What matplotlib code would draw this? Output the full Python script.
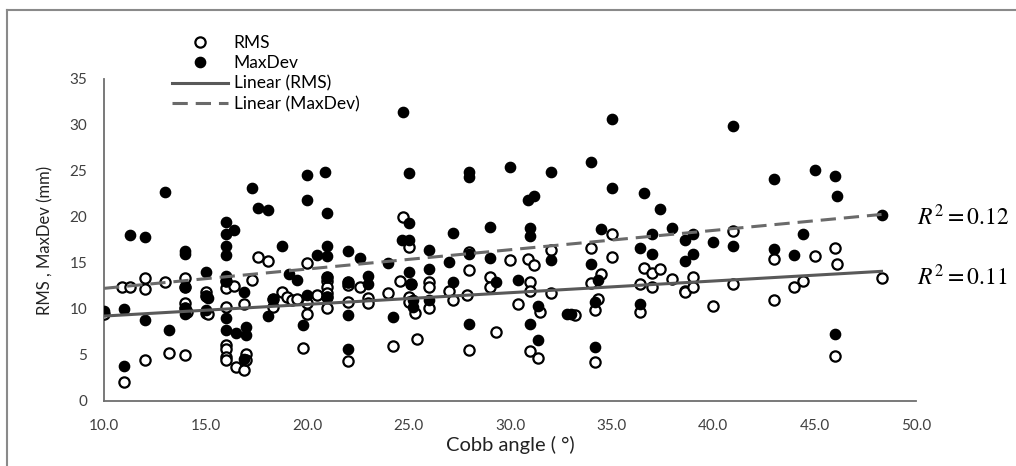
import numpy as np
import matplotlib
matplotlib.use("Agg")
import matplotlib.pyplot as plt
from matplotlib.lines import Line2D

# Cobb angle vs RMS / MaxDev
# quelques points RMS sont cachés sous les points MaxDev
rms_x = [10, 10.9, 11.3, 11, 12, 12, 12, 13, 13.2,
         14, 14, 14.1, 14, 14, 14, 15, 15, 15.1, 15,
         16, 16.4, 16, 16, 16, 16, 16, 16.5, 16,
         16.9, 16.9, 17, 17, 17.3, 17.6, 18.1, 18.3, 18.3,
         18.75, 19, 19.25, 19.5, 19.8, 20, 20, 20, 20.5,
         21, 21, 21, 21, 21, 21, 22, 22, 22, 22, 22.6, 23, 23,
         24, 24.25, 24.75, 25, 24.6, 25, 25, 25.3, 25.4, 25.1,
         26, 26, 26, 27, 27.2, 28, 28, 27.9, 28,
         29, 29, 29.3, 30, 30.9, 31.2, 31, 31, 30.4, 32, 32, 31.5, 31, 31.4,
         33.2, 34, 34, 34.5, 34.35, 34.2, 34.2, 35, 35,
         36.4, 36.4, 36.6, 37, 37, 37.4, 38, 38.6, 38.6, 39, 39, 40,
         41, 41, 43, 43, 44, 44.45, 45, 46, 46.1, 46, 48.3]
rms_y = [9.5, 12.35, 12.4, 2.1, 13.4, 12.2, 4.5, 12.9, 5.2,
         13.4, 10.7, 9.7, 5.0, 12.35, 10.1, 11.8, 9.6, 9.5, 11.4,
         12.25, 12.5, 10.2, 6.1, 5.7, 4.8, 4.5, 3.7, 13.0,
         3.4, 10.5, 5.1, 4.5, 13.2, 15.6, 15.2, 10.25, 11.1,
         11.8, 11.3, 11.0, 11.05, 5.8, 15.0, 10.6, 9.5, 11.5,
         13.0, 12.4, 11.7, 10.1, 13.5, 11.3, 12.6, 10.8, 4.35, 12.9, 12.4, 11.2, 10.7,
         11.7, 6.0, 20.0, 16.7, 13.0, 11.3, 10.8, 9.6, 6.7, 12.7,
         12.9, 12.35, 10.1, 12.0, 11.0, 16.2, 14.2, 11.5, 5.5,
         13.5, 12.35, 7.5, 15.3, 15.4, 14.8, 12.9, 12.0, 10.5, 16.4, 11.7, 9.7, 5.4, 4.7,
         9.4, 16.6, 12.8, 13.8, 11.05, 9.9, 4.2, 18.1, 15.6,
         12.7, 9.7, 14.5, 13.9, 12.35, 14.3, 13.3, 12.0, 11.9, 13.5, 12.35, 10.3,
         18.5, 12.7, 15.4, 11.0, 12.4, 13.0, 15.8, 16.6, 14.9, 4.9, 13.4]

maxdev_x = [10, 11, 11, 11.3, 12, 12, 13, 13.2,
            14, 14, 14, 14, 14, 15, 15, 15.1, 15,
            16, 16, 16.4, 16, 16, 16, 16, 16, 16, 16.5,
            16.9, 17, 17, 16.9, 17.3, 17.6, 18.1, 18.3, 18.1,
            18.75, 19.1, 19.5, 19.8, 20, 20, 20, 20.5,
            20.9, 21, 21, 21, 21, 21, 22, 22, 22, 22, 22.6, 23, 23,
            24, 24.25, 24.75, 25, 25, 24.7, 25, 25, 25.1, 25.2, 25.2,
            26, 26, 26, 27, 27.2, 27.2, 28, 28, 28, 28,
            29, 29, 29.3, 30, 30.4, 31, 31, 30.9, 31.2, 31, 31.4, 31.4,
            32, 32, 32.8, 33, 34, 34, 34.35, 34.2, 34.2, 35, 35, 34.5,
            36.4, 36.4, 36.6, 37, 37, 37.4, 38, 38.6, 38.6, 39, 39, 40,
            41, 41, 43, 43, 44, 44.45, 45, 46, 46.1, 46, 48.3]
maxdev_y = [9.8, 10.0, 3.8, 18.0, 17.8, 8.8, 22.7, 7.7,
            16.3, 16.0, 12.35, 10.1, 9.5, 14.0, 11.4, 11.2, 9.9,
            19.5, 18.2, 18.6, 16.8, 15.9, 13.6, 13.0, 9.0, 7.7, 7.4,
            11.8, 8.0, 7.2, 4.6, 23.1, 21.0, 20.8, 11.1, 9.2,
            16.8, 13.8, 13.2, 8.3, 24.6, 21.8, 11.5, 15.9,
            24.9, 20.4, 16.8, 15.8, 13.5, 11.3, 16.3, 12.9, 9.3, 5.6, 15.5, 13.6, 12.7,
            15.0, 9.1, 31.4, 24.8, 19.4, 17.5, 17.5, 14.0, 12.7, 11.0, 10.25,
            16.4, 14.4, 11.0, 15.1, 18.3, 12.9, 24.9, 24.4, 16.0, 8.4,
            18.9, 15.5, 12.9, 25.4, 13.15, 18.8, 17.9, 21.8, 22.3, 8.4, 10.3, 6.6,
            24.9, 15.3, 9.5, 9.5, 26.0, 14.9, 13.15, 10.8, 5.9, 30.65, 23.1, 18.7,
            16.6, 10.5, 22.6, 18.15, 16.0, 20.9, 18.8, 17.5, 15.25, 18.2, 16.0, 17.3,
            29.9, 16.9, 24.1, 16.5, 15.9, 18.1, 25.1, 24.5, 22.3, 7.3, 20.2]

x_ticks = [10, 15, 20, 25, 30, 35, 40, 45, 50]
y_ticks = [0, 5, 10, 15, 20, 25, 30, 35]
r2_labels = ["$R^2 = 0.12$", "$R^2 = 0.11$"]

plt.rcParams['font.family'] = ['Lato', 'DejaVu Sans']
plt.rcParams['mathtext.fontset'] = 'stix'

fig = plt.figure(figsize=(10.16, 4.66), dpi=100)
ax = fig.add_axes([0.1024, 0.1395, 0.7992, 0.691])

# Series
ax.plot(rms_x, rms_y, 'o', ms=7.4, mfc='white', mec='black', mew=1.6,
        label='RMS', zorder=3)
ax.plot(maxdev_x, maxdev_y, 'o', ms=7.4, mfc='black', mec='black', mew=1,
        label='MaxDev', zorder=3)

# Trendlines (linear fit)
xr = np.array([min(rms_x), max(rms_x)])
a, b = np.polyfit(rms_x, rms_y, 1)
ax.plot(xr, a * xr + b, '-', color='#595959', lw=2.2, label='Linear (RMS)', zorder=4)
xm = np.array([min(maxdev_x), max(maxdev_x)])
c, d = np.polyfit(maxdev_x, maxdev_y, 1)
ax.plot(xm, c * xm + d, '--', color='#6a6a6a', lw=2.2, dashes=(5, 2.6),
        label='Linear (MaxDev)', zorder=4)

# R2 text
ax.text(50.05, c * xm[1] + d - 0.2, r2_labels[0], fontsize=17, va='center',
        ha='left', clip_on=False)
ax.text(50.05, a * xr[1] + b - 0.6, r2_labels[1], fontsize=17, va='center',
        ha='left', clip_on=False)

ax.set_xlim(10, 50)
ax.set_ylim(0, 35)
ax.set_xticks(x_ticks)
ax.set_xticklabels([f"{v:.1f}" for v in x_ticks])
ax.set_yticks(y_ticks)
ax.tick_params(length=0, labelsize=11, colors='#404040', pad=12)
ax.tick_params(axis='x', pad=13)
for s in ['top', 'right']:
    ax.spines[s].set_visible(False)
for s in ['left', 'bottom']:
    ax.spines[s].set_color('#6e6e6e')
    ax.spines[s].set_linewidth(1.3)

ax.set_xlabel('Cobb angle ( °)', fontsize=14.5, color='#222222', labelpad=2)
ax.set_ylabel('RMS , MaxDev (mm)', fontsize=12, color='#222222', labelpad=12)

fig.legend(loc='upper left', bbox_to_anchor=(172 / 1016, 1 - 35 / 466),
           frameon=False, fontsize=12.5, handlelength=3.2, handletextpad=0.35,
           labelspacing=0.25, borderpad=0, borderaxespad=0)

# Chart area border (only left and top visible)
fig.add_artist(Line2D([7 / 1016, 7 / 1016], [0, 1 - 10 / 466], color='#8a8a8a', lw=1.5))
fig.add_artist(Line2D([7 / 1016, 1], [1 - 10 / 466, 1 - 10 / 466], color='#8a8a8a', lw=1.5))

fig.savefig('out.png', dpi=100)
